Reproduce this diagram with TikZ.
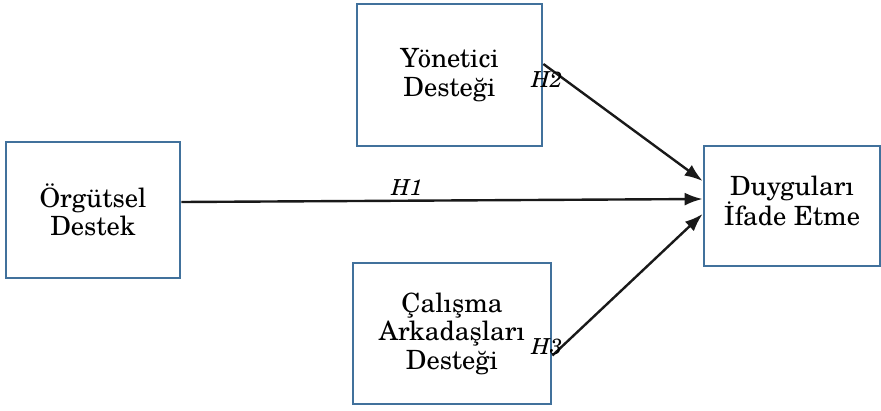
\documentclass[tikz,border=0pt]{standalone}
\usepackage{fontspec}
\setmainfont{TeX Gyre Schola}
\usetikzlibrary{arrows.meta}
\definecolor{kutumavi}{RGB}{65,113,156}
\begin{document}
\begin{tikzpicture}[x=1pt,y=-1pt,
  kutu/.style={draw=kutumavi,line width=2.8pt,align=center,inner sep=0pt,
    font=\fontsize{26.5}{28.5}\selectfont},
  ok/.style={draw=black!90,line width=2.4pt,-{Latex[length=18pt,width=13pt]}},
  etiket/.style={inner sep=0pt,font=\fontsize{22}{24}\selectfont\itshape}]
\useasboundingbox (0,0) rectangle (881,410);
\node[kutu,minimum width=174pt,minimum height=136pt] (orgutsel) at (93,210) {Örgütsel\\Destek};
\node[kutu,minimum width=185pt,minimum height=142pt] (yonetici) at (449.5,75) {Yönetici\\Desteği};
\node[kutu,minimum width=198pt,minimum height=141pt] (calisma) at (452,333.5) {Çalışma\\Arkadaşları\\Desteği};
\node[kutu,minimum width=176pt,minimum height=120pt] (duygu) at (792,206) {Duyguları\\İfade Etme\rule[-10pt]{0pt}{0pt}};
\draw[ok] ([yshift=8pt]orgutsel.east) -- ([yshift=7pt]duygu.west);
\draw[ok] ([yshift=11pt]yonetici.east) -- ([yshift=25pt]duygu.west);
\draw[ok] ([yshift=-22pt]calisma.east) -- ([yshift=-8pt]duygu.west);
\node[etiket] (h1) at (407,188) {H1};
\node[etiket] (h2) at (547,80) {H2};
\node[etiket] (h3) at (547,347) {H3};
\end{tikzpicture}
\end{document}
